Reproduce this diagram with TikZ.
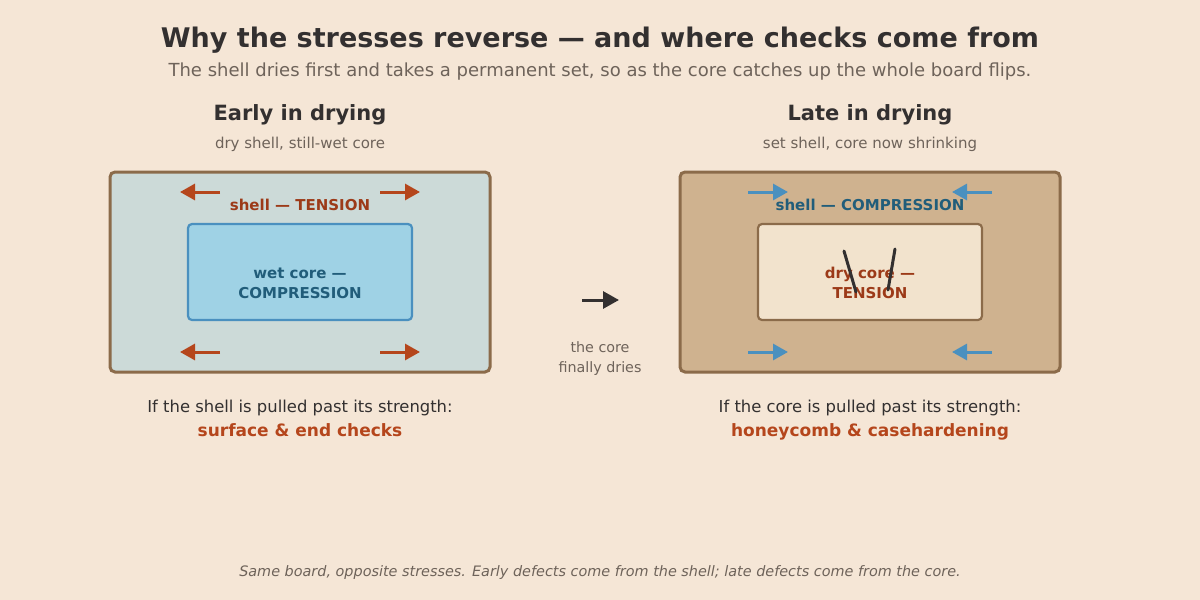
\documentclass[tikz,border=0pt]{standalone}
\usepackage{fontspec}
\setmainfont{DejaVu Sans}
\usetikzlibrary{arrows.meta}
\definecolor{bg}{HTML}{F5E6D6}
\definecolor{ink}{HTML}{333030}
\definecolor{muted}{HTML}{6E635A}
\definecolor{frame}{HTML}{8B6B4A}
\definecolor{shellwet}{HTML}{CCDAD8}
\definecolor{corewet}{HTML}{9FD2E5}
\definecolor{coreline}{HTML}{4A90BF}
\definecolor{tens}{HTML}{9C3A18}
\definecolor{tensarrow}{HTML}{B5461C}
\definecolor{comp}{HTML}{215D7A}
\definecolor{shelldry}{HTML}{CFB28F}
\definecolor{coredry}{HTML}{F2E3CD}
\newcommand{\fs}[1]{\fontsize{#1}{#1}\selectfont}
\tikzset{
  txt/.style={anchor=base, inner sep=0pt, outer sep=0pt},
  board/.style={draw=frame, line width=3pt, rounded corners=5pt},
  corebox/.style={line width=2.2pt, rounded corners=4pt},
  tarrow/.style={draw=tensarrow, line width=3pt, -{Triangle[length=15pt,width=16pt]}},
  carrow/.style={draw=coreline, line width=3pt, -{Triangle[length=15pt,width=16pt]}},
  crack/.style={draw=ink, line width=3pt, line cap=round},
}
\begin{document}
\begin{tikzpicture}[x=1pt,y=-1pt]
\useasboundingbox (0,0) rectangle (1200,600);
\fill[bg] (0,0) rectangle (1200,600);

% titles
\node[txt, text=ink, font=\fs{27}\bfseries] (title) at (600,47) {Why the stresses reverse — and where checks come from};
\node[txt, text=muted, font=\fs{18}] (sub) at (600,76) {The shell dries first and takes a permanent set, so as the core catches up the whole board flips.};

% left panel
\node[txt, text=ink, font=\fs{21}\bfseries] (lh) at (300,120) {Early in drying};
\node[txt, text=muted, font=\fs{15}] (ls) at (300,148) {dry shell, still-wet core};
\draw[board, fill=shellwet] (110,172) rectangle (490,372);
\node[draw=coreline, fill=corewet, corebox, minimum width=224pt, minimum height=96pt, inner sep=0pt] (lcore) at (300,272) {};
\node[txt, text=tens, font=\fs{15}\bfseries] (lshell) at (300,210) {shell — TENSION};
\node[txt, text=comp, font=\fs{15}\bfseries] (lc1) at (300,278) {wet core —};
\node[txt, text=comp, font=\fs{15}\bfseries] (lc2) at (300,298) {COMPRESSION};
\coordinate (la1s) at (220,192); \coordinate (la1e) at (180,192);
\coordinate (la2s) at (380,192); \coordinate (la2e) at (420,192);
\coordinate (la3s) at (220,352); \coordinate (la3e) at (180,352);
\coordinate (la4s) at (380,352); \coordinate (la4e) at (420,352);
\draw[tarrow] (la1s) -- (la1e);
\draw[tarrow] (la2s) -- (la2e);
\draw[tarrow] (la3s) -- (la3e);
\draw[tarrow] (la4s) -- (la4e);
\node[txt, text=ink, font=\fs{16.4}] (lq) at (300,412) {If the shell is pulled past its strength:};
\node[txt, text=tensarrow, font=\fs{17}\bfseries] (la) at (300,436) {surface \& end checks};

% middle
\coordinate (ms) at (582,300); \coordinate (me) at (619,300);
\draw[draw=ink, line width=3pt, -{Triangle[length=16pt,width=17pt]}] (ms) -- (me);
\node[txt, text=muted, font=\fs{14.3}] (m1) at (600,352) {the core};
\node[txt, text=muted, font=\fs{14.3}] (m2) at (600,372) {finally dries};

% right panel
\node[txt, text=ink, font=\fs{21}\bfseries] (rh) at (870,120) {Late in drying};
\node[txt, text=muted, font=\fs{15}] (rs) at (870,148) {set shell, core now shrinking};
\draw[board, fill=shelldry] (680,172) rectangle (1060,372);
\node[draw=frame, fill=coredry, corebox, minimum width=224pt, minimum height=96pt, inner sep=0pt] (rcore) at (870,272) {};
\node[txt, text=comp, font=\fs{15}\bfseries] (rshell) at (870,210) {shell — COMPRESSION};
\node[txt, text=tens, font=\fs{15}\bfseries] (rc1) at (870,278) {dry core —};
\node[txt, text=tens, font=\fs{15}\bfseries] (rc2) at (870,298) {TENSION};
\coordinate (ck1a) at (844,251); \coordinate (ck1b) at (856,292);
\coordinate (ck2a) at (895,249); \coordinate (ck2b) at (888,290);
\draw[crack] (ck1a) -- (ck1b);
\draw[crack] (ck2a) -- (ck2b);
\coordinate (ra1s) at (748,192); \coordinate (ra1e) at (788,192);
\coordinate (ra2s) at (992,192); \coordinate (ra2e) at (952,192);
\coordinate (ra3s) at (748,352); \coordinate (ra3e) at (788,352);
\coordinate (ra4s) at (992,352); \coordinate (ra4e) at (952,352);
\draw[carrow] (ra1s) -- (ra1e);
\draw[carrow] (ra2s) -- (ra2e);
\draw[carrow] (ra3s) -- (ra3e);
\draw[carrow] (ra4s) -- (ra4e);
\node[txt, text=ink, font=\fs{16.4}] (rq) at (870,412) {If the core is pulled past its strength:};
\node[txt, text=tensarrow, font=\fs{17}\bfseries] (ra) at (870,436) {honeycomb \& casehardening};

% footer
\node[txt, text=muted, font=\fs{14.4}\itshape] (foot) at (600,576) {Same board, opposite stresses. Early defects come from the shell; late defects come from the core.};
\end{tikzpicture}
\end{document}
